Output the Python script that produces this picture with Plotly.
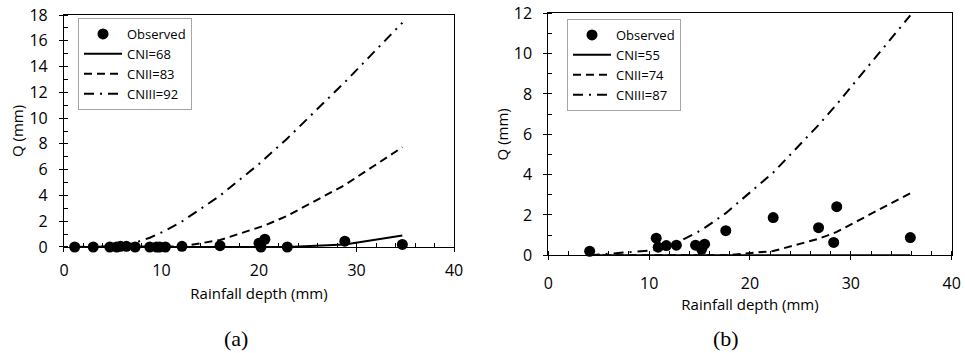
import plotly.graph_objects as go

# ---- Panel (a) ----
rain_a = [1.1, 3.0, 4.7, 5.4, 5.8, 6.4, 7.3, 8.8, 9.5, 9.8, 10.4, 12.1,
          16.0, 20.0, 20.2, 20.6, 22.9, 28.8, 34.7]
obs_a = [0.0, 0.0, 0.0, 0.0, 0.05, 0.05, 0.0, 0.0, 0.0, 0.0, 0.0, 0.05,
         0.1, 0.3, 0.0, 0.6, 0.0, 0.45, 0.2]
cn1_a = [0, 0, 0, 0, 0, 0, 0, 0, 0, 0, 0, 0, 0, 0, 0, 0, 0, 0.19, 0.89]
cn2_a = [0, 0, 0, 0, 0, 0, 0, 0, 0, 0, 0, 0.05, 0.54, 1.5, 1.55, 1.67,
         2.42, 4.81, 7.74]
cn3_a = [0, 0, 0.0, 0.04, 0.08, 0.16, 0.33, 0.72, 0.95, 1.05, 1.27, 1.98,
         3.98, 6.44, 6.58, 6.84, 8.42, 12.79, 17.4]
names_a = ["CNI=68", "CNII=83", "CNIII=92"]

# ---- Panel (b) ----
rain_b = [4.1, 10.7, 10.9, 11.7, 12.7, 14.6, 15.2, 15.5, 17.6, 22.3,
          26.8, 28.3, 28.6, 35.9]
obs_b = [0.2, 0.85, 0.4, 0.48, 0.5, 0.5, 0.3, 0.55, 1.22, 1.87,
         1.37, 0.64, 2.41, 0.88]
cn1_b = [0, 0, 0, 0, 0, 0, 0, 0, 0, 0, 0, 0, 0, 0]
cn2_b = [0, 0, 0, 0, 0, 0, 0, 0, 0, 0.21, 0.82, 1.1, 1.16, 3.08]
cn3_b = [0, 0.24, 0.27, 0.4, 0.61, 1.09, 1.27, 1.36, 2.09, 4.1,
         6.46, 7.31, 7.49, 11.9]
names_b = ["CNI=55", "CNII=74", "CNIII=87"]

FONT = "Open Sans"
dashes = ["solid", "8px,5px", "10px,6px,2px,6px"]

fig = go.Figure()


def add_panel(rain, obs, curves, names, xa, ya, legend):
    fig.add_trace(go.Scatter(
        x=rain, y=obs, mode="markers", name="Observed",
        marker=dict(color="black", size=11), cliponaxis=False,
        xaxis=xa, yaxis=ya, legend=legend))
    for q, nm, d in zip(curves, names, dashes):
        fig.add_trace(go.Scatter(
            x=rain, y=q, mode="lines", name=nm,
            line=dict(color="black", width=2, dash=d),
            xaxis=xa, yaxis=ya, legend=legend))


add_panel(rain_a, obs_a, [cn1_a, cn2_a, cn3_a], names_a, "x", "y", "legend")
add_panel(rain_b, obs_b, [cn1_b, cn2_b, cn3_b], names_b, "x2", "y2", "legend2")

axis_common = dict(
    showline=True, linecolor="black", linewidth=1, mirror=True,
    showgrid=False, zeroline=False, automargin=False,
    ticks="outside", ticklen=4, tickcolor="black", tickwidth=1,
    tickfont=dict(family=FONT, size=16, color="black"),
    title_font=dict(family=FONT, size=15, color="black"),
)
minor_x = dict(dtick=2, ticks="inside", ticklen=4, tickcolor="black")
minor_y = dict(dtick=1, ticks="inside", ticklen=4, tickcolor="black")

legend_common = dict(
    xanchor="left", yanchor="top",
    bgcolor="white", bordercolor="#a6a6a6", borderwidth=1,
    font=dict(family=FONT, size=13, color="black"),
    tracegroupgap=0, itemwidth=38,
)

fig.update_layout(
    width=965, height=353,
    margin=dict(l=0, r=0, t=0, b=0, autoexpand=False),
    paper_bgcolor="white", plot_bgcolor="white",
    xaxis=dict(axis_common, domain=[0.0663, 0.4705], range=[0, 40],
               dtick=10, ticklabelstandoff=5,
               title=dict(text="Rainfall depth (mm)", standoff=8),
               minor=minor_x, anchor="y"),
    yaxis=dict(axis_common, domain=[0.3003, 0.9575], range=[0, 18],
               dtick=2, ticklabelstandoff=8,
               title=dict(text="Q (mm)", standoff=2),
               minor=minor_y, anchor="x"),
    xaxis2=dict(axis_common, domain=[0.5682, 0.9862], range=[0, 40],
                dtick=10, ticklabelstandoff=10,
                title=dict(text="Rainfall depth (mm)", standoff=4),
                minor=minor_x, anchor="y2"),
    yaxis2=dict(axis_common, domain=[0.2768, 0.9623], range=[0, 12],
                dtick=2, ticklabelstandoff=8,
                title=dict(text="Q (mm)", standoff=1),
                minor=minor_y, anchor="x2"),
    legend=dict(legend_common, x=78 / 965, y=1 - 18 / 353),
    legend2=dict(legend_common, x=567 / 965, y=1 - 19 / 353),
    showlegend=True,
)

# Panel captions
for txt, xc in [("(a)", 236), ("(b)", 726)]:
    fig.add_annotation(
        text=txt, xref="paper", yref="paper",
        x=xc / 965, y=1 - 338 / 353, xanchor="center", yanchor="middle",
        showarrow=False,
        font=dict(family="Liberation Serif", size=22, color="black"))

fig.write_html("out.html")
